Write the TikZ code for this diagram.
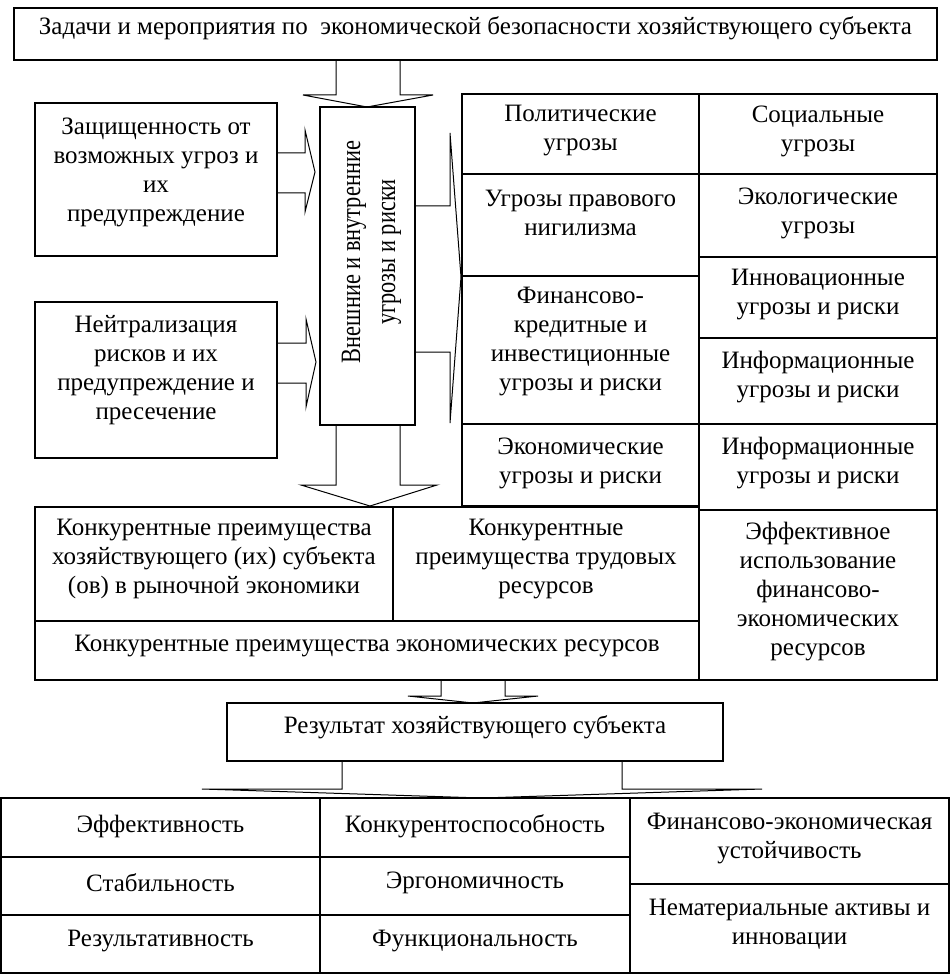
\documentclass[tikz,border=0pt]{standalone}
\usepackage{graphicx}
\usepackage{fontspec}
\setmainfont{Liberation Serif}
\tikzset{
 cellbox/.style={draw, line width=1.6pt, inner sep=0pt, outer sep=0pt},
 txt/.style={align=center, inner sep=0pt, font=\fontsize{25}{29}\selectfont},
 blockarrow/.style={draw, line width=1pt, line join=miter},
}
\newcommand\mycell[7]{%
 \node[cellbox, minimum width={(#4-#2)*1pt}, minimum height={(#5-#3)*1pt}] (#1) at ({(#2+#4)/2},{(#3+#5)/2}) {};
 \node[txt] (#1t) at ({(#2+#4)/2},#6) {#7};}
\begin{document}
\begin{tikzpicture}[x=1pt,y=-1pt]
\useasboundingbox (0,0) rectangle (951,976);
% top
\mycell{top}{14}{8}{937}{60}{28}{Задачи и мероприятия по\ \ экономической безопасности хозяйствующего субъекта}
% left boxes
\mycell{leftA}{35}{103}{277}{256}{172}{Защищенность от\\возможных угроз и\\их\\предупреждение}
\mycell{leftB}{35}{302}{277}{458}{370}{Нейтрализация\\рисков и их\\предупреждение и\\пресечение}
% vertical box
\node[cellbox, line width=2pt, minimum width=95pt, minimum height=318pt] (vbox) at (367.5,266) {};
\node[inner sep=0pt, rotate=90] (vboxt) at (370.5,252) {\scalebox{0.8}[1]{\fontsize{28}{35}\selectfont\begin{tabular}{@{}c@{}}Внешние и внутренние\\угрозы и риски\end{tabular}}};
% right grid
\mycell{pol}{462}{94}{699}{174}{131}{Политические\\угрозы}
\mycell{soc}{699}{94}{937}{174}{131}{Социальные\\угрозы}
\mycell{prav}{462}{174}{699}{276}{213}{Угрозы правового\\нигилизма}
\mycell{ecol}{699}{174}{937}{257}{213}{Экологические\\угрозы}
\mycell{fin}{462}{276}{699}{424}{342}{Финансово-\\кредитные и\\инвестиционные\\угрозы и риски}
\mycell{inn}{699}{257}{937}{338}{295}{Инновационные\\угрозы и риски}
\mycell{infA}{699}{338}{937}{424}{377}{Информационные\\угрозы и риски}
\mycell{econ}{462}{424}{699}{506}{463}{Экономические\\угрозы и риски}
\mycell{infB}{699}{424}{937}{510}{463}{Информационные\\угрозы и риски}
\mycell{eff}{699}{510}{937}{680}{592}{Эффективное\\использование\\финансово-\\экономических\\ресурсов}
% competitive advantages
\mycell{kA}{35}{507}{393}{621}{559}{Конкурентные преимущества\\хозяйствующего (их) субъекта\\(ов) в рыночной экономики}
\mycell{kB}{393}{507}{699}{621}{559}{Конкурентные\\преимущества трудовых\\ресурсов}
\mycell{kC}{35}{621}{699}{680}{646}{Конкурентные преимущества экономических ресурсов}
% result
\mycell{res}{227}{703}{723}{761}{727}{Результат хозяйствующего субъекта}
% bottom table
\mycell{bA}{1}{798}{320}{857}{826}{Эффективность}
\mycell{bB}{320}{798}{630}{857}{826}{Конкурентоспособность}
\mycell{bC}{1}{857}{320}{915}{883}{Стабильность}
\mycell{bD}{320}{857}{630}{915}{883}{Эргономичность}
\mycell{bE}{1}{915}{320}{973}{941}{Результативность}
\mycell{bF}{320}{915}{630}{973}{941}{Функциональность}
\mycell{bG}{630}{798}{949}{884}{839}{Финансово-экономическая\\устойчивость}
\mycell{bH}{630}{884}{949}{973}{924}{Нематериальные активы и\\инновации}
% block arrows
\draw[blockarrow] (336,0 |- top.south) -- (336,95) -- (303,95) -- (367,107) -- (433,95) -- (400,95) -- (400,0 |- top.south);
\draw[blockarrow] (leftA.east |- 0,153) -- (305,153) -- (305,130) -- (315,172) -- (305,212) -- (305,193) -- (leftA.east |- 0,193);
\draw[blockarrow] (leftB.east |- 0,343) -- (306,343) -- (306,319) -- (316,362) -- (306,407) -- (306,383) -- (leftB.east |- 0,383);
\draw[blockarrow] (vbox.east |- 0,206) -- (450,206) -- (450,133) -- (461,277) -- (450,423) -- (450,352) -- (vbox.east |- 0,352);
\draw[blockarrow] (336,0 |- vbox.south) -- (336,485) -- (301,485) -- (370,506) -- (437,485) -- (400,485) -- (400,0 |- vbox.south);
\draw[blockarrow] (441,0 |- kC.south) -- (441,696) -- (408,696) -- (473,703) -- (538,696) -- (505,696) -- (505,0 |- kC.south);
\draw[blockarrow] (342,0 |- res.south) -- (342,789) -- (202,789) -- (482,798) -- (762,789) -- (622,789) -- (622,0 |- res.south);
\end{tikzpicture}
\end{document}
